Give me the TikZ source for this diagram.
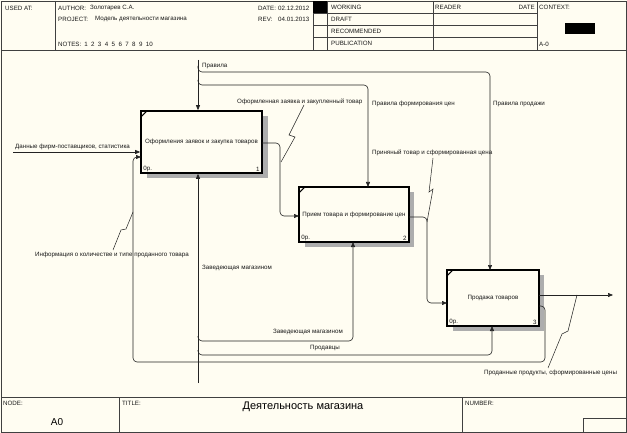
\documentclass[tikz,border=0pt]{standalone}
\usepackage{fontspec}
\setmainfont{Liberation Sans}
\usetikzlibrary{arrows.meta}
\definecolor{bg}{RGB}{255,253,242}
\definecolor{ln}{RGB}{35,35,35}
\tikzset{
  sm/.style={font=\fontsize{6.2}{7}\selectfont, inner sep=0pt, text=black!90},
  lbl/.style={sm, anchor=west},
  lblr/.style={sm, anchor=east},
  arr/.style={draw=ln, line width=0.6pt, rounded corners=4pt, -{Triangle[length=5pt,width=4pt]}},
  lin/.style={draw=ln, line width=0.6pt, rounded corners=4pt},
  act/.style={draw=black, line width=1.6pt, fill=bg, sm, align=center},
  frm/.style={draw=black!75, line width=0.8pt},
  zig/.style={draw=ln, line width=0.5pt},
  shd/.style={fill=black!32, draw=none}
}
\begin{document}
\begin{tikzpicture}[x=1pt,y=-1pt]
\useasboundingbox (0,0) rectangle (627,433);
\fill[bg] (0,0) rectangle (627,433);

% ---------- frame and header ----------
\draw[frm] (1,1) rectangle (626,432);
\draw[frm] (1,50) -- (626,50);
\draw[frm] (55,1) -- (55,50);
\draw[frm] (313,1) -- (313,50);
\draw[frm] (327,1) -- (327,50);
\draw[frm] (433,1) -- (433,50);
\draw[frm] (537,1) -- (537,50);
\foreach \yy in {13,25,37} \draw[frm] (313,\yy) -- (537,\yy);
\fill[black] (313,1) rectangle (327,13);
\fill[black] (565,23) rectangle (595,34);

\node[lbl] (usedat) at (5,8) {USED AT:};
\node[lbl] (author) at (58,8) {AUTHOR:};
\node[lbl] (authorv) at (90,8) {Золотарев С.А.};
\node[lbl] (project) at (58,19) {PROJECT:};
\node[lbl] (projectv) at (95,19) {Модель деятельности магазина};
\node[lbl] (notes) at (58,44) {NOTES:\hspace{3pt}1\hspace{3.4pt}2\hspace{3.4pt}3\hspace{3.4pt}4\hspace{3.4pt}5\hspace{3.4pt}6\hspace{3.4pt}7\hspace{3.4pt}8\hspace{3.4pt}9\hspace{3.4pt}10};
\node[lbl] (date) at (258,8) {DATE:};
\node[lbl] (datev) at (278,8) {02.12.2012};
\node[lbl] (rev) at (258,19) {REV:};
\node[lbl] (revv) at (278,19) {04.01.2013};
\node[lbl] (working) at (331,7) {WORKING};
\node[lbl] (draft) at (331,19) {DRAFT};
\node[lbl] (recom) at (331,31) {RECOMMENDED};
\node[lbl] (publ) at (331,43) {PUBLICATION};
\node[lbl] (reader) at (435,7) {READER};
\node[lblr] (rdate) at (535,7) {DATE};
\node[lbl] (context) at (539,7) {CONTEXT:};
\node[lbl] (am0) at (539,44) {A-0};

% ---------- footer ----------
\draw[frm] (1,397) -- (626,397);
\draw[frm] (119,397) -- (119,432);
\draw[frm] (462,397) -- (462,432);
\draw[frm] (583,418) rectangle (626,432);
\node[lbl] (nodel) at (3,403) {NODE:};
\node[font=\fontsize{10}{12}\selectfont, inner sep=0pt] (a0) at (57,422) {A0};
\node[lbl] (titlel) at (122,403) {TITLE:};
\node[font=\fontsize{11}{13}\selectfont, inner sep=0pt] (title) at (303,407) {Деятельность магазина};
\node[lbl] (numl) at (465,403) {NUMBER:};

% ---------- shadows ----------
\fill[shd] (262,116) rectangle (268,178);
\fill[shd] (147,173) rectangle (268,178);
\fill[shd] (409,192) rectangle (414,247);
\fill[shd] (305,242) rectangle (414,247);
\fill[shd] (539,275) rectangle (544,331);
\fill[shd] (453,326) rectangle (544,331);

% ---------- activity boxes ----------
\node[act, minimum width=121pt, minimum height=62pt] (b1) at (201.5,142) {Оформления заявок и закупка товаров};
\node[act, minimum width=110pt, minimum height=55pt] (b2) at (354,214.5) {Прием товара и формирование цен};
\node[act, minimum width=92pt, minimum height=56pt] (b3) at (493,298) {Продажа товаров};

\foreach \b/\n in {b1/1,b2/2,b3/3}{
  \draw[line width=1pt] ([xshift=1.5pt,yshift=-6pt]\b.north west) -- ([xshift=6pt,yshift=-1.5pt]\b.north west);
  \node[sm, anchor=south west] at ([xshift=3pt,yshift=2pt]\b.south west) {0р.};
  \node[sm, anchor=south east] at ([xshift=-3pt,yshift=2pt]\b.south east) {\n};
}

% ---------- coordinates ----------
\coordinate (ctop) at (198,60);
\coordinate (din) at (13,152);
\coordinate (mbot) at (198,383);
\coordinate (oend) at (613,295);

% ---------- controls ----------
\draw[arr] (ctop) -- (ctop |- b1.north);
\draw[arr] (198,66) -- (198,72) -- (490,72) -- (490,270);
\draw[arr] (198,80) -- (198,85) -- (368,85) -- (368,187);

% ---------- inputs / outputs ----------
\draw[arr] (din) -- (din -| b1.west);
\draw[arr] (262,143) -- (280,143) -- (280,216) -- (299,216);
\draw[arr] (409,217) -- (427,217) -- (427,303) -- (447,303);
\draw[arr] (539,295) -- (oend);
\draw[arr] (539,306) -- (545,306) -- (545,362) -- (133,362) -- (133,157) -- (141,157);

% ---------- mechanisms ----------
\draw[arr] (mbot) -- (mbot |- b1.south);
\draw[arr] (198,336) -- (198,341) -- (353,341) -- (353,242);
\draw[arr] (198,350) -- (198,355) -- (492,355) -- (492,326);

% ---------- labels ----------
\node[lbl] (lprav) at (202,66) {Правила};
\node[lbl] (ldata) at (15,147) {Данные фирм-поставщиков, статистика};
\node[lbl] (lzak) at (237,102) {Оформленная заявка и закупленный товар};
\node[lbl] (lpfc) at (372,104) {Правила формирования цен};
\node[lbl] (lpp) at (493,104) {Правила продажи};
\node[lbl] (lpt) at (372,153) {Приняный товар и сформированная цена};
\node[lbl] (linf) at (35,255) {Информация о количестве и типе проданного товара};
\node[lbl] (lzm1) at (202,268) {Заведеющая магазином};
\node[lblr] (lzm2) at (343,332) {Заведеющая магазином};
\node[lblr] (lprod) at (340,348) {Продавцы};
\node[lbl] (lout) at (484,373) {Проданные продукты, сформированные цены};

% ---------- squiggles ----------
\draw[zig] (304,105) -- (289,135) -- (295,137) -- (281,162);
\draw[zig] (433,158) -- (429,192) -- (433,189) -- (427,222);
\draw[zig] (548,368) -- (562,334) -- (568,331) -- (577,295);
\draw[zig] (113,250) -- (121,230) -- (126,229) -- (133,212);
\end{tikzpicture}
\end{document}
